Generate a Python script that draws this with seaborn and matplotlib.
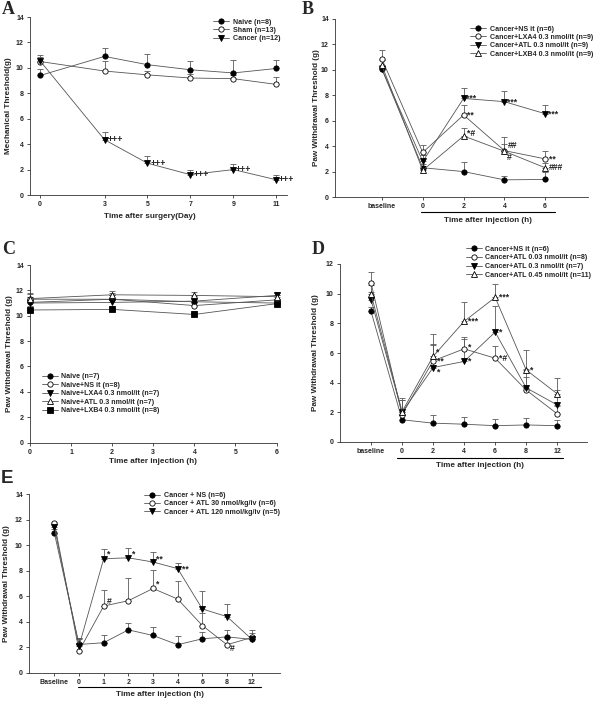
import numpy as np
import matplotlib
matplotlib.use("Agg")
import matplotlib.pyplot as plt
import seaborn as sns
from matplotlib import transforms

# ---------------- data ----------------
# Panel A
a_days = [0, 3, 5, 7, 9, 11]
a_naive = [9.4, 10.9, 10.25, 9.85, 9.6, 9.95]
a_naive_err = [0.5, 0.65, 0.85, 0.7, 1.0, 0.7]
a_sham = [10.5, 9.75, 9.45, 9.2, 9.15, 8.7]
a_sham_err = [0.5, 0.8, 0.3, 0.3, 0.3, 0.6]
a_cancer = [10.55, 4.35, 2.5, 1.6, 2.0, 1.2]
a_cancer_err = [0.3, 0.6, 0.55, 0.4, 0.4, 0.35]
a_labels = ["Naive (n=8)", "Sham (n=13)", "Cancer (n=12)"]

# Panel B
b_ticks = ["baseline", "0", "2", "4", "6"]
b_ns = [10.05, 2.3, 2.0, 1.35, 1.38]
b_ns_err = [0.2, 0.3, 0.75, 0.3, 0.55]
b_lxa4 = [10.85, 3.5, 6.45, 3.65, 3.0]
b_lxa4_err = [0.7, 0.6, 0.75, 1.05, 0.6]
b_atl = [10.05, 2.8, 7.75, 7.5, 6.55]
b_atl_err = [0.3, 0.5, 0.85, 0.8, 0.7]
b_lxb4 = [10.35, 2.1, 4.8, 3.6, 2.3]
b_lxb4_err = [0.4, 0.3, 0.65, 0.6, 0.4]
b_labels = ["Cancer+NS it (n=6)", "Cancer+LXA4 0.3 nmol/it (n=9)",
            "Cancer+ATL 0.3 nmol/it (n=9)", "Cancer+LXB4 0.3 nmol/it (n=9)"]

# Panel C
c_hours = [0, 2, 4, 6]
c_naive = [11.05, 11.3, 11.1, 11.0]
c_naive_err = [0.4, 0.3, 0.3, 0.3]
c_ns = [11.3, 11.3, 10.8, 11.25]
c_ns_err = [0.5, 0.5, 0.5, 0.4]
c_lxa4 = [11.0, 11.05, 11.15, 11.6]
c_lxa4_err = [0.5, 0.6, 0.4, 0.3]
c_atl = [11.35, 11.65, 11.6, 11.5]
c_atl_err = [0.4, 0.3, 0.25, 0.3]
c_lxb4 = [10.45, 10.5, 10.1, 10.95]
c_lxb4_err = [0.3, 0.3, 0.3, 0.3]
c_labels = ["Naive (n=7)", "Naive+NS it (n=8)", "Naive+LXA4 0.3 nmol/it (n=7)",
            "Naive+ATL 0.3 nmol/it (n=7)", "Naive+LXB4 0.3 nmol/it (n=8)"]

# Panel D
d_ticks = ["baseline", "0", "2", "4", "6", "8", "12"]
d_ns = [8.8, 1.5, 1.27, 1.2, 1.1, 1.15, 1.1]
d_ns_err = [0.3, 0.3, 0.55, 0.5, 0.47, 0.5, 0.35]
d_atl003 = [10.72, 1.85, 5.47, 6.28, 5.65, 3.5, 1.9]
d_atl003_err = [0.75, 1.0, 1.1, 0.8, 0.8, 0.9, 0.5]
d_atl03 = [9.6, 2.0, 5.02, 5.43, 7.41, 3.65, 2.5]
d_atl03_err = [0.5, 0.8, 1.6, 1.5, 1.73, 1.3, 1.0]
d_atl045 = [9.98, 2.05, 5.77, 8.13, 9.75, 4.86, 3.25]
d_atl045_err = [0.6, 0.9, 1.53, 1.28, 0.93, 1.31, 1.05]
d_labels = ["Cancer+NS it (n=6)", "Cancer+ATL 0.03 nmol/it (n=8)",
            "Cancer+ATL 0.3 nmol/it (n=7)", "Cancer+ATL 0.45 nmol/it (n=11)"]

# Panel E
e_ticks = ["Baseline", "0", "1", "2", "3", "4", "6", "8", "12"]
e_ns = [10.95, 2.2, 2.34, 3.35, 2.91, 2.18, 2.65, 2.8, 2.6]
e_ns_err = [0.3, 0.4, 0.62, 0.55, 0.65, 0.65, 0.57, 0.5, 0.3]
e_atl30 = [11.75, 1.7, 5.22, 5.64, 6.6, 5.77, 3.69, 2.18, 2.75]
e_atl30_err = [0.1, 1.0, 1.25, 1.76, 1.43, 1.43, 0.99, 0.5, 0.6]
e_atl120 = [11.4, 2.08, 8.94, 9.01, 8.68, 8.16, 4.99, 4.39, 2.62]
e_atl120_err = [0.3, 0.6, 0.8, 0.79, 0.77, 0.44, 1.43, 0.99, 0.5]
e_labels = ["Cancer + NS (n=6)", "Cancer + ATL 30 nmol/kg/iv (n=6)",
            "Cancer + ATL 120 nmol/kg/iv (n=5)"]

# ---------------- style ----------------
sns.set_style("ticks")
plt.rcParams["font.family"] = ["Liberation Sans", "DejaVu Sans"]
plt.rcParams["font.weight"] = "bold"
plt.rcParams["axes.labelweight"] = "bold"

W, H = 600, 704
fig = plt.figure(figsize=(W / 100, H / 100), dpi=100)

LINE = "#555555"
ERR = "#5a5a5a"
MS = 3.8
FS_T = 5.0
FS_L = 5.15
FS_X = 5.9
FS_A = 6.2


def px_axes(l, r, t, b):
    return fig.add_axes([l / W, 1 - b / H, (r - l) / W, (b - t) / H])


def style_axes(ax, ylim, yticks):
    for s in ["top", "right"]:
        ax.spines[s].set_visible(False)
    for s in ["left", "bottom"]:
        ax.spines[s].set_linewidth(0.6)
        ax.spines[s].set_color("#333333")
    ax.set_ylim(*ylim)
    ax.set_yticks(yticks)
    ax.tick_params(axis="both", labelsize=FS_T, length=2.5, width=0.6,
                   pad=2, color="#333333")


def series(ax, x, y, err, marker, face):
    sns.lineplot(x=x, y=y, ax=ax, color=LINE, marker=marker, markersize=MS,
                 markerfacecolor=face, markeredgecolor="black",
                 markeredgewidth=0.6, linewidth=0.6, errorbar=None,
                 clip_on=False, zorder=3, legend=False)
    h = ax.lines[-1]
    ax.errorbar(x, y, yerr=[np.zeros(len(err)), err], fmt="none", ecolor=ERR,
                elinewidth=0.6, capsize=2.2, capthick=0.6, zorder=2,
                clip_on=False)
    return h


def legend(ax, handles, labels, x, y, spacing=0.15):
    ax.legend(handles, labels, loc="upper left", bbox_to_anchor=(x / W, 1 - y / H),
              bbox_transform=fig.transFigure, frameon=False, fontsize=FS_L,
              handlelength=2.3, handletextpad=0.45, labelspacing=spacing,
              borderpad=0, borderaxespad=0, numpoints=1)


def annot(ax, x, y, txt, dx=2.5, dy=0):
    ax.annotate(txt, (x, y), xytext=(dx, dy), textcoords="offset points",
                fontsize=FS_A, ha="left", va="center", color="#222222")


def underline(ax, x0, x1, yfrac):
    tr = transforms.blended_transform_factory(ax.transData, ax.transAxes)
    ax.plot([x0, x1], [yfrac, yfrac], color="black", lw=0.8,
            transform=tr, clip_on=False)


def letter(x, y, s, serif=True):
    fig.text(x / W, 1 - y / H, s, fontsize=13 if serif else 13.5,
             family=["Liberation Serif"] if serif else ["Liberation Sans"],
             weight="bold", ha="left", va="top")


OPEN = "white"
FILL = "black"

# ---------------- Panel A ----------------
ax = px_axes(30, 287, 17, 195)
h1 = series(ax, a_days, a_naive, a_naive_err, "o", FILL)
h2 = series(ax, a_days, a_sham, a_sham_err, "o", OPEN)
h3 = series(ax, a_days, a_cancer, a_cancer_err, "v", FILL)
style_axes(ax, (0, 14), np.arange(0, 15, 2))
ax.set_xlim(-0.47, 11.5)
ax.set_xticks(a_days)
for i in range(1, len(a_days)):
    annot(ax, a_days[i], a_cancer[i], "+++", dx=2)
ax.set_xlabel("Time after surgery(Day)", fontsize=FS_X)
ax.set_ylabel("Mechanical Threshold(g)", fontsize=FS_X)
ax.xaxis.set_label_coords(0.467, -0.10)
ax.yaxis.set_label_coords(-0.07, 0.5)
legend(ax, [h1, h2, h3], a_labels, 213, 18.5, 0.2)
letter(2, 1, "A")

# ---------------- Panel B ----------------
ax = px_axes(335, 588, 19, 197)
bx = np.arange(len(b_ticks))
h1 = series(ax, bx, b_ns, b_ns_err, "o", FILL)
h2 = series(ax, bx, b_lxa4, b_lxa4_err, "o", OPEN)
h3 = series(ax, bx, b_atl, b_atl_err, "v", FILL)
h4 = series(ax, bx, b_lxb4, b_lxb4_err, "^", OPEN)
style_axes(ax, (0, 14), np.arange(0, 15, 2))
ax.set_xlim(-1.15, 5.05)
ax.set_xticks(bx)
ax.set_xticklabels(b_ticks)
for i in (2, 3, 4):
    annot(ax, bx[i], b_atl[i], "***", dx=2)
annot(ax, bx[2], b_lxa4[2], "**", dx=2.5)
annot(ax, bx[4], b_lxa4[4], "**", dx=2.5)
annot(ax, bx[2], b_lxb4[2], "*#", dx=2.5, dy=1.5)
annot(ax, bx[3], b_lxb4[3], "##", dx=2.5, dy=4)
annot(ax, bx[3], b_lxb4[3], "#", dx=1.5, dy=-4.5)
annot(ax, bx[4], b_lxb4[4], "###", dx=2.5)
underline(ax, 0.95, 4.25, -0.083)
ax.set_xlabel("Time after injection (h)", fontsize=FS_X)
ax.set_ylabel("Paw Withdrawal Threshold (g)", fontsize=FS_X)
ax.xaxis.set_label_coords(0.605, -0.115)
ax.yaxis.set_label_coords(-0.06, 0.5)
legend(ax, [h1, h2, h3, h4], b_labels, 470, 25.5, 0.2)
letter(302, 1, "B")

# ---------------- Panel C ----------------
ax = px_axes(30, 276.5, 265, 442.5)
h1 = series(ax, c_hours, c_naive, c_naive_err, "o", FILL)
h2 = series(ax, c_hours, c_ns, c_ns_err, "o", OPEN)
h3 = series(ax, c_hours, c_lxa4, c_lxa4_err, "v", FILL)
h4 = series(ax, c_hours, c_atl, c_atl_err, "^", OPEN)
h5 = series(ax, c_hours, c_lxb4, c_lxb4_err, "s", FILL)
style_axes(ax, (0, 14), np.arange(0, 15, 2))
ax.set_xlim(0, 6)
ax.set_xticks(np.arange(0, 7, 1))
ax.set_xlabel("Time after injection (h)", fontsize=FS_X)
ax.set_ylabel("Paw Withdrawal Threshold (g)", fontsize=FS_X)
ax.xaxis.set_label_coords(0.50, -0.09)
ax.yaxis.set_label_coords(-0.07, 0.5)
legend(ax, [h1, h2, h3, h4, h5], c_labels, 41.7, 373, 0.22)
letter(2, 241, "C")

# ---------------- Panel D ----------------
ax = px_axes(340, 587, 264, 442)
dx_ = np.arange(len(d_ticks))
h1 = series(ax, dx_, d_ns, d_ns_err, "o", FILL)
h2 = series(ax, dx_, d_atl003, d_atl003_err, "o", OPEN)
h3 = series(ax, dx_, d_atl03, d_atl03_err, "v", FILL)
h4 = series(ax, dx_, d_atl045, d_atl045_err, "^", OPEN)
style_axes(ax, (0, 12), np.arange(0, 13, 2))
ax.set_xlim(-1.0, 6.96)
ax.set_xticks(dx_)
ax.set_xticklabels(d_ticks)
annot(ax, dx_[2], d_atl045[2], "*", dx=2, dy=3)
annot(ax, dx_[2], d_atl003[2], "**", dx=2.5)
annot(ax, dx_[2], d_atl03[2], "*", dx=2.5, dy=-3)
annot(ax, dx_[3], d_atl045[3], "***", dx=2.5)
annot(ax, dx_[3], d_atl003[3], "*", dx=2.5, dy=1)
annot(ax, dx_[3], d_atl03[3], "*", dx=2.5)
annot(ax, dx_[4], d_atl045[4], "***", dx=2.5)
annot(ax, dx_[4], d_atl03[4], "*", dx=2.5)
annot(ax, dx_[4], d_atl003[4], "*#", dx=2.5)
annot(ax, dx_[5], d_atl045[5], "*", dx=2.5)
underline(ax, 0.83, 6.2, -0.088)
ax.set_xlabel("Time after injection (h)", fontsize=FS_X)
ax.set_ylabel("Paw Withdrawal Threshold (g)", fontsize=FS_X)
ax.xaxis.set_label_coords(0.568, -0.115)
ax.yaxis.set_label_coords(-0.085, 0.5)
legend(ax, [h1, h2, h3, h4], d_labels, 465.7, 245.5, 0.25)
letter(312, 241, "D")

# ---------------- Panel E ----------------
ax = px_axes(29, 280, 494.3, 672.5)
ex = np.arange(len(e_ticks))
h1 = series(ax, ex, e_ns, e_ns_err, "o", FILL)
h2 = series(ax, ex, e_atl30, e_atl30_err, "o", OPEN)
h3 = series(ax, ex, e_atl120, e_atl120_err, "v", FILL)
style_axes(ax, (0, 14), np.arange(0, 15, 2))
ax.set_xlim(-1.03, 9.15)
ax.set_xticks(ex)
ax.set_xticklabels(e_ticks)
annot(ax, ex[2], e_atl120[2], "*", dx=2.5, dy=3)
annot(ax, ex[3], e_atl120[3], "*", dx=2.5, dy=3)
annot(ax, ex[4], e_atl120[4], "**", dx=2.5, dy=2)
annot(ax, ex[5], e_atl120[5], "**", dx=3, dy=0)
annot(ax, ex[2], e_atl30[2], "#", dx=2.5, dy=3)
annot(ax, ex[4], e_atl30[4], "*", dx=2.5, dy=3)
annot(ax, ex[7], e_atl30[7], "#", dx=2, dy=-3)
underline(ax, 0.97, 8.37, -0.081)
ax.set_xlabel("Time after injection (h)", fontsize=FS_X)
ax.set_ylabel("Paw Withdrawal Threshold (g)", fontsize=FS_X)
ax.xaxis.set_label_coords(0.52, -0.105)
ax.yaxis.set_label_coords(-0.075, 0.5)
legend(ax, [h1, h2, h3], e_labels, 144, 492, 0.18)
letter(1, 470, "E", serif=False)

fig.savefig("out.png", dpi=100)
